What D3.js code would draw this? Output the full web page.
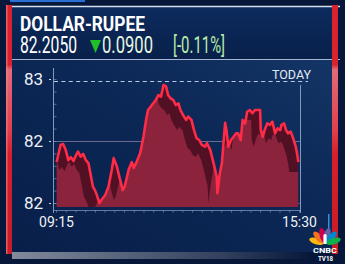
<!DOCTYPE html>
<html>
<head>
<meta charset="utf-8">
<script src="https://cdn.jsdelivr.net/npm/d3@7"></script>
<style>
  body { margin: 0; background: #06173a; }
  svg { display: block; font-family: Roboto, "DejaVu Sans", sans-serif; }
</style>
</head>
<body>
<script>
var title = "DOLLAR-RUPEE";
var lastPrice = "82.2050";
var change = "0.0900";
var changePct = "[-0.11%]";
var markerLabel = "TODAY";
var timeLabels = ["09:15", "15:30"];
var yTicks = [82.0, 82.25, 82.5];
var yTickLabels = ["82", "82", "83"];

// minutes after 09:15
var minutes = [1,7,11,15,19,23,27,31,34,38,42,46,50,53,57,60,63,67,70,76,81,86,89,94,99,103,106,112,117,120,125,130,135,139,142,146,150,154,158,162,166,170,173,177,181,185,189,192,196,201,204,209,213,217,221,225,230,233,238,242,245,248,249,253,256,258,261,263,266,270,274,278,281,285,288,292,295,299,303,307,311,315,316,319,322,326,330,334,338,342,346,348,352,355,358,362,366,370,372,374];
var prices = [82.165,82.234,82.238,82.214,82.173,82.185,82.169,82.194,82.207,82.187,82.198,82.173,82.161,82.121,82.066,82.052,82.032,82.000,82.012,82.032,82.066,82.133,82.181,82.146,82.093,82.052,82.066,82.133,82.165,82.141,82.169,82.202,82.267,82.335,82.375,82.388,82.402,82.415,82.435,82.429,82.476,82.469,82.435,82.422,82.415,82.395,82.402,82.375,82.355,82.335,82.348,82.335,82.294,82.261,82.254,82.234,82.227,82.241,82.214,82.173,82.141,82.106,82.040,82.121,82.161,82.227,82.323,82.294,82.227,82.254,82.267,82.281,82.281,82.254,82.335,82.321,82.368,82.375,82.362,82.375,82.375,82.375,82.294,82.267,82.294,82.321,82.315,82.328,82.281,82.301,82.294,82.315,82.321,82.294,82.281,82.288,82.261,82.227,82.200,82.165];

var data = minutes.map(function(m, i) { return {m: m, v: prices[i]}; });

var W = 345, H = 264;
var svg = d3.select("body").append("svg").attr("width", W).attr("height", H);
var defs = svg.append("defs");

function linGrad(id, x1, y1, x2, y2, stops) {
  var g = defs.append("linearGradient").attr("id", id)
    .attr("x1", x1).attr("y1", y1).attr("x2", x2).attr("y2", y2);
  stops.forEach(function(s) {
    g.append("stop").attr("offset", s[0]).attr("stop-color", s[1]).attr("stop-opacity", s[2] == null ? 1 : s[2]);
  });
}
linGrad("hdr", 0, 0, 0, 1, [[0, "#0d2b5e"], [1, "#08204a"]]);
linGrad("pnl", 0, 1, 1, 0, [[0, "#081f49"], [0.6, "#0c2856"], [1, "#133566"]]);
linGrad("bar", 0, 0, 0, 1, [[0, "#d8222e"], [0.24, "#d8222e"], [0.26, "#e46a78"], [0.5, "#e0404e"], [0.6, "#d41f2b"], [1, "#c81c28"]]);
linGrad("glow", 0, 0, 1, 0, [[0, "#ffffff", 0.5], [0.7, "#ffffff", 0.18], [1, "#ffffff", 0]]);

// background blocks
svg.append("rect").attr("width", W).attr("height", H).attr("fill", "#06173a");
svg.append("rect").attr("x", 10).attr("y", 0).attr("width", 75).attr("height", 2).attr("fill", "#2a6fd6");
svg.append("rect").attr("x", 12).attr("y", 7).attr("width", 321).attr("height", 52).attr("fill", "url(#hdr)");
svg.append("rect").attr("x", 12).attr("y", 60).attr("width", 321).attr("height", 192).attr("fill", "url(#pnl)");
svg.append("line").attr("x1", 8).attr("x2", 340).attr("y1", 6.5).attr("y2", 6.5).attr("stroke", "#d5deec").attr("stroke-width", 1.5);
svg.append("line").attr("x1", 8).attr("x2", 340).attr("y1", 59.5).attr("y2", 59.5).attr("stroke", "#a7b6cf").attr("stroke-width", 1);
svg.append("rect").attr("x", 12).attr("y", 252).attr("width", 300).attr("height", 7).attr("fill", "url(#glow)");
svg.append("rect").attr("x", 6).attr("y", 5).attr("width", 6).attr("height", 249).attr("fill", "url(#bar)");
svg.append("rect").attr("x", 6).attr("y", 5).attr("width", 1.5).attr("height", 249).attr("fill", "#f08a92").attr("opacity", 0.6);
svg.append("rect").attr("x", 332).attr("y", 5).attr("width", 6).attr("height", 249).attr("fill", "url(#bar)");
svg.append("rect").attr("x", 328).attr("y", 214).attr("width", 1.5).attr("height", 28).attr("fill", "#3a8ae0");

// header texts
svg.append("text").attr("x", 20).attr("y", 31).text(title)
  .attr("font-size", 20).attr("font-weight", "bold").attr("fill", "#ffffff")
  .attr("textLength", 125).attr("lengthAdjust", "spacingAndGlyphs");
svg.append("text").attr("x", 20).attr("y", 53).text(lastPrice)
  .attr("font-size", 23).attr("fill", "#ffffff")
  .attr("textLength", 57).attr("lengthAdjust", "spacingAndGlyphs");
svg.append("path").attr("d", "M90,40 L101,40 L95.5,53 Z").attr("fill", "#1fc02a");
svg.append("text").attr("x", 102).attr("y", 53).text(change)
  .attr("font-size", 23).attr("fill", "#e4f6e0")
  .attr("textLength", 51).attr("lengthAdjust", "spacingAndGlyphs");
svg.append("text").attr("x", 173).attr("y", 53).text(changePct)
  .attr("font-size", 23).attr("fill", "#b8eca8")
  .attr("textLength", 52).attr("lengthAdjust", "spacingAndGlyphs");

// scales
var x = d3.scaleLinear().domain([0, 375]).range([56, 299]);
var y = d3.scaleLinear().domain([82, 82.5]).range([203, 79]);
var floorY = y(82) + 4;

// grid
var grid = svg.append("g");
grid.selectAll("line.g").data(yTicks.slice(0, 2)).enter().append("line")
  .attr("x1", 53).attr("x2", 300)
  .attr("y1", function(d) { return y(d) + 0.5; }).attr("y2", function(d) { return y(d) + 0.5; })
  .attr("stroke", "#8fb0da").attr("stroke-opacity", 0.4);
svg.append("line").attr("x1", 54).attr("x2", 308)
  .attr("y1", y(82.5) + 2.5).attr("y2", y(82.5) + 2.5)
  .attr("stroke", "#b9cbe6").attr("stroke-width", 1.2).attr("stroke-dasharray", "4,3.4");

// 3D line chart: dark side faces between the line and a copy pushed down-left
var front = d3.area().x(function(d) { return x(d.m); }).y0(floorY).y1(function(d) { return y(d.v); });
var dx = -9, dy = 10;
var last = data[data.length - 1];
var backPts = data.map(function(d) { return [x(d.m) + dx, y(d.v) + dy]; });
backPts.push([x(last.m), y(last.v) + dy]);
var back = d3.area().x(function(p) { return p[0]; }).y0(floorY).y1(function(p) { return p[1]; });

defs.append("clipPath").attr("id", "frontClip").append("path").attr("d", front(data));

svg.append("path").attr("d", front(data)).attr("fill", "#521024");
svg.append("path").attr("d", back(backPts)).attr("fill", "#8a233b").attr("clip-path", "url(#frontClip)");
grid.selectAll("line.o").data(yTicks.slice(0, 2)).enter().append("line")
  .attr("x1", 57).attr("x2", 299)
  .attr("y1", function(d) { return y(d) + 0.5; }).attr("y2", function(d) { return y(d) + 0.5; })
  .attr("stroke", "#d08a9a").attr("stroke-opacity", 0.3);
svg.append("path").datum(data)
  .attr("d", d3.line().x(function(d) { return x(d.m); }).y(function(d) { return y(d.v); }))
  .attr("fill", "none").attr("stroke", "#ff2b47").attr("stroke-width", 2.6).attr("stroke-linejoin", "round");

// axes
svg.append("line").attr("x1", 53.5).attr("x2", 53.5).attr("y1", 68).attr("y2", 213)
  .attr("stroke", "#9fb5d6").attr("stroke-opacity", 0.8);
svg.append("line").attr("x1", 300.5).attr("x2", 300.5).attr("y1", 85).attr("y2", 213)
  .attr("stroke", "#9fb5d6").attr("stroke-opacity", 0.8);
svg.append("line").attr("x1", 54).attr("x2", 300).attr("y1", 210.5).attr("y2", 210.5)
  .attr("stroke", "#9fb5d6").attr("stroke-opacity", 0.6);

var minorY = svg.append("g").attr("transform", "translate(53.5,0)")
  .call(d3.axisRight(y).tickValues(d3.range(82, 82.51, 0.05)).tickSize(3).tickFormat(""));
minorY.select(".domain").remove();
minorY.selectAll("line").attr("stroke", "#9fb5d6").attr("stroke-opacity", 0.5);

var minorX = svg.append("g").attr("transform", "translate(0,210.5)")
  .call(d3.axisBottom(x).tickValues(d3.range(0, 376, 15)).tickSize(2).tickFormat(""));
minorX.select(".domain").remove();
minorX.selectAll("line").attr("stroke", "#9fb5d6").attr("stroke-opacity", 0.5);

var yAxis = svg.append("g").attr("transform", "translate(51,0)")
  .call(d3.axisLeft(y).tickValues(yTicks).tickSize(2).tickPadding(6)
    .tickFormat(function(d, i) { return yTickLabels[i]; }));
yAxis.select(".domain").remove();
yAxis.selectAll("line").attr("stroke", "#c9d6ea");
yAxis.selectAll("text").attr("font-size", 17).attr("fill", "#eef2f8")
  .attr("font-family", "Roboto, sans-serif").attr("dy", "0.3em");

var xAxis = svg.append("g").attr("transform", "translate(0,212)")
  .call(d3.axisBottom(x).tickValues([0, 375]).tickSize(0).tickPadding(3)
    .tickFormat(function(d, i) { return timeLabels[i]; }));
xAxis.select(".domain").remove();
xAxis.selectAll("text").attr("font-size", 14).attr("fill", "#eef2f8")
  .attr("font-family", "Roboto, sans-serif").attr("dy", "0.85em");

svg.append("text").attr("x", 272).attr("y", 78.5).text(markerLabel)
  .attr("font-size", 12).attr("fill", "#e4eaf3")
  .attr("textLength", 39).attr("lengthAdjust", "spacingAndGlyphs");

// CNBC TV18 logo
var logo = svg.append("g").attr("transform", "translate(325,244)");
var feathers = ["#fcb711", "#f37021", "#cc004c", "#6460aa", "#0089d0", "#0db14b"];
logo.selectAll("ellipse").data(feathers).enter().append("ellipse")
  .attr("cx", 0).attr("cy", -9).attr("rx", 3.2).attr("ry", 7.5)
  .attr("fill", function(d) { return d; })
  .attr("transform", function(d, i) { return "rotate(" + (-72 + i * 28.8) + ")"; });
logo.append("path").attr("d", "M-1.6,0 L-1.6,-9 Q0,-11 1.6,-9 L1.6,0 Z").attr("fill", "#ffffff");
svg.append("text").attr("x", 325).attr("y", 252.5).attr("text-anchor", "middle").text("CNBC")
  .attr("font-size", 7).attr("font-weight", "bold").attr("fill", "#ffffff")
  .attr("textLength", 24).attr("lengthAdjust", "spacingAndGlyphs");
svg.append("text").attr("x", 325.5).attr("y", 261).attr("text-anchor", "middle").text("TV18")
  .attr("font-size", 6.5).attr("font-weight", "bold").attr("fill", "#ffffff")
  .attr("textLength", 15).attr("lengthAdjust", "spacingAndGlyphs");
</script>
</body>
</html>
